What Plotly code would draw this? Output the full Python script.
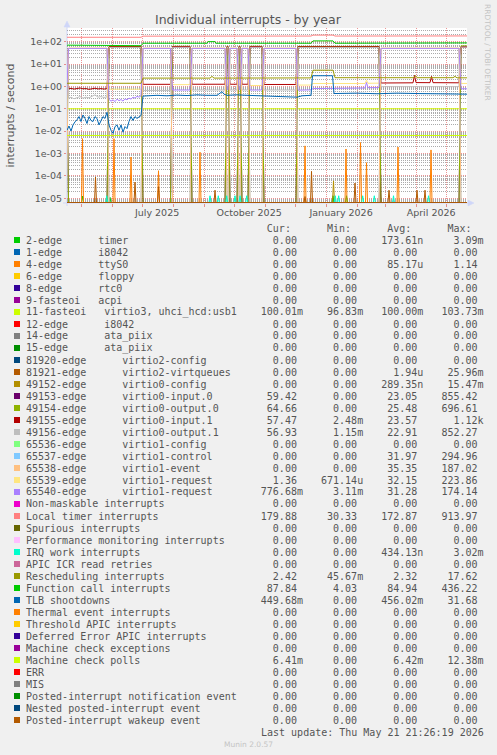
import plotly.graph_objects as go
from datetime import datetime, timedelta

# ---------------------------------------------------------------- data
START = datetime(2025, 4, 16, 21, 26, 19)      # left edge of the 400-day window
SPAN_DAYS = 400

legend_names = [
    "2-edge      timer", "1-edge      i8042", "4-edge      ttyS0", "6-edge      floppy",
    "8-edge      rtc0", "9-fasteoi   acpi", "11-fasteoi   virtio3, uhci_hcd:usb1",
    "12-edge      i8042", "14-edge      ata_piix", "15-edge      ata_piix",
    "81920-edge      virtio2-config", "81921-edge      virtio2-virtqueues",
    "49152-edge      virtio0-config", "49153-edge      virtio0-input.0",
    "49154-edge      virtio0-output.0", "49155-edge      virtio0-input.1",
    "49156-edge      virtio0-output.1", "65536-edge      virtio1-config",
    "65537-edge      virtio1-control", "65538-edge      virtio1-event",
    "65539-edge      virtio1-request", "65540-edge      virtio1-request",
    "Non-maskable interrupts", "Local timer interrupts", "Spurious interrupts",
    "Performance monitoring interrupts", "IRQ work interrupts", "APIC ICR read retries",
    "Rescheduling interrupts", "Function call interrupts", "TLB shootdowns",
    "Thermal event interrupts", "Threshold APIC interrupts", "Deferred Error APIC interrupts",
    "Machine check exceptions", "Machine check polls", "ERR", "MIS",
    "Posted-interrupt notification event", "Nested posted-interrupt event",
    "Posted-interrupt wakeup event",
]
legend_colors = [
    "#00CC00", "#0066B3", "#FF8000", "#FFCC00", "#330099", "#990099", "#CCFF00", "#FF0000",
    "#808080", "#008F00", "#00487D", "#B35A00", "#B38F00", "#6B006B", "#8FB300", "#B30000",
    "#BEBEBE", "#80FF80", "#80C9FF", "#FFC080", "#FFE680", "#AA80FF", "#EE00CC", "#FF8080",
    "#666600", "#FFBFFF", "#00FFCC", "#CC6699", "#999900", "#00CC00", "#0066B3", "#FF8000",
    "#FFCC00", "#330099", "#990099", "#CCFF00", "#FF0000", "#808080", "#008F00", "#00487D",
    "#B35A00",
]
cur_vals = ["0.00", "0.00", "0.00", "0.00", "0.00", "0.00", "100.01m", "0.00", "0.00", "0.00",
            "0.00", "0.00", "0.00", "59.42", "64.66", "57.47", "56.93", "0.00", "0.00", "0.00",
            "1.36", "776.68m", "0.00", "179.88", "0.00", "0.00", "0.00", "0.00", "2.42", "87.84",
            "449.68m", "0.00", "0.00", "0.00", "0.00", "6.41m", "0.00", "0.00", "0.00", "0.00", "0.00"]
min_vals = ["0.00", "0.00", "0.00", "0.00", "0.00", "0.00", "96.83m", "0.00", "0.00", "0.00",
            "0.00", "0.00", "0.00", "0.00", "0.00", "2.48m", "1.15m", "0.00", "0.00", "0.00",
            "671.14u", "3.11m", "0.00", "30.33", "0.00", "0.00", "0.00", "0.00", "45.67m", "4.03",
            "0.00", "0.00", "0.00", "0.00", "0.00", "0.00", "0.00", "0.00", "0.00", "0.00", "0.00"]
avg_vals = ["173.61n", "0.00", "85.17u", "0.00", "0.00", "0.00", "100.00m", "0.00", "0.00", "0.00",
            "0.00", "1.94u", "289.35n", "23.05", "25.48", "23.57", "22.91", "0.00", "31.97", "35.35",
            "32.15", "31.28", "0.00", "172.87", "0.00", "0.00", "434.13n", "0.00", "2.32", "84.94",
            "456.02m", "0.00", "0.00", "0.00", "0.00", "6.42m", "0.00", "0.00", "0.00", "0.00", "0.00"]
max_vals = ["3.09m", "0.00", "1.14", "0.00", "0.00", "0.00", "103.73m", "0.00", "0.00", "0.00",
            "0.00", "25.96m", "15.47m", "855.42", "696.61", "1.12k", "852.27", "0.00", "294.96", "187.02",
            "223.86", "174.14", "0.00", "913.97", "0.00", "0.00", "3.02m", "0.00", "17.62", "436.22",
            "31.68", "0.00", "0.00", "0.00", "0.00", "12.38m", "0.00", "0.00", "0.00", "0.00", "0.00"]

# x ticks
tick_dates = ["2025-07-16", "2025-10-16", "2026-01-16", "2026-04-16"]
tick_labels = ["July 2025", "October 2025", "January 2026", "April 2026"]
month_starts = ["2025-05-01", "2025-06-01", "2025-07-01", "2025-08-01", "2025-09-01",
                "2025-10-01", "2025-11-01", "2025-12-01", "2026-01-01", "2026-02-01",
                "2026-03-01", "2026-04-01", "2026-05-01"]
y_tickvals = [1e-5, 1e-4, 1e-3, 1e-2, 1e-1, 1e0, 1e1, 1e2]
y_ticktext = ["1e-05", "1e-04", "1e-03", "1e-02", "1e-01", "1e+00", "1e+01", "1e+02"]

# device switch-over periods (day offsets from START); B = virtio0 active, A = virtio1 active
seg_bounds = [-2, 0.5, 41, 75, 104.5, 124, 159, 162, 171, 174, 182, 196, 230, 313, 393, 401]

# noisy stretches (day, value)
dr1_days = [1.5, 4, 7, 10, 13, 16, 19, 22, 25, 28, 31, 34, 37, 40]
dr1_vals = [0.78, 0.82, 0.76, 0.80, 0.85, 0.78, 0.80, 0.74, 0.79, 0.83, 0.77, 0.80, 0.76, 0.80]
gr1_vals = [0.30, 0.33, 0.28, 0.32, 0.35, 0.30, 0.33, 0.31, 0.36, 0.42, 0.33, 0.35, 0.32, 0.34]
lav2_days = [42, 44, 46, 48, 50, 52, 54, 56, 58, 60, 62, 64, 66, 68, 70, 72, 74]
lav2_vals = [0.26, 0.22, 0.25, 0.21, 0.27, 0.23, 0.26, 0.22, 0.28, 0.25, 0.30, 0.27, 0.33,
             0.30, 0.36, 0.33, 0.38]
dr13_days = [314, 330, 346, 347.5, 349, 363, 364.5, 366, 380, 392]
dr13_vals = [1.42, 1.45, 1.45, 3.1, 1.48, 1.47, 2.8, 1.47, 1.45, 1.45]
s12_days = [231, 244, 246, 298, 299.5, 301, 312]
y12_vals = [1.15, 1.15, 1.35, 1.35, 1.9, 1.38, 1.40]
lav12_vals = [0.68, 0.70, 0.80, 0.85, 1.5, 0.88, 0.88]

# per-segment levels of the virtio queue interrupts
v0_in0 = [57, 0, 56, 0, 58, 0, 58, 0, 58, 0, 58, 0, 57, 0, 59.4]
v0_out0 = [61, 0, 60, 0, 62, 0, 62, 0, 62, 0, 62, 0, 61, 0, 64.7]
v0_in1 = [59, (dr1_days, dr1_vals), 59, 1.24, 60, 1.25, 60, 1.25, 60, 1.25, 60, 1.22, 59,
          (dr13_days, dr13_vals), 57.5]
v0_out1 = [55, (dr1_days, gr1_vals), 55, 0.66, 56, 0.69, 56, 0.69, 56, 0.69, 56, 0.69, 55, 0.97, 56.9]
v1_ctrl = [0, 49.5, 0, 49.5, 0, 49.5, 0, 49.5, 0, 49.5, 0, 49.5, 0, 49.5, 0]
v1_event = [0, 50.5, 0, 50.5, 0, 50.5, 0, 50.5, 0, 50.5, 0, 50.5, 0, 50.5, 0]
v1_req1 = [0.75, 51.5, 0.75, 51.5, 1.2, 51.5, 1.2, 51.5, 1.2, 51.5, 1.1, 51.5,
           (s12_days, y12_vals), 51.5, 1.36]
v1_req2 = [0.3, 50, (lav2_days, lav2_vals), 50, 0.69, 50, 0.7, 50, 0.7, 50, 0.69, 50,
           (s12_days, lav12_vals), 50, 0.78]

# continuous counters
ltimer_days = [0, 74, 76, 140, 142, 146, 244, 246, 266, 268, 400]
ltimer_vals = [157, 157, 176, 176, 182, 178, 178, 196, 196, 178, 179.9]
fcall_days = [0, 40, 42, 74, 76, 140, 141, 148, 149, 244, 246, 266, 268, 312, 314, 392, 394, 400]
fcall_vals = [70, 70, 66, 66, 85, 85, 100, 100, 85, 85, 108, 108, 85, 86, 90, 90, 87.8, 87.8]
resched_days = [0, 74, 76, 143, 145, 147, 244, 246, 266, 268, 347, 348.5, 350, 386, 388, 390, 400]
resched_vals = [1.38, 1.38, 2.35, 2.35, 2.8, 2.35, 2.4, 5.3, 5.3, 2.45, 2.45, 3.0, 2.45, 2.45, 2.8,
                2.42, 2.42]
tlb_days = [0, 2, 4, 6, 8, 10, 12, 14, 16, 18, 20, 22, 24, 26, 28, 30, 32, 34, 36, 38,
            40, 42, 44, 46, 48, 50, 52, 54, 56, 58, 60, 62, 64, 66, 68, 70, 72, 74, 76,
            90, 100, 110, 120, 130, 140, 150, 155, 157, 160, 170, 180, 190, 200, 210, 220,
            230, 235, 244, 245.5, 265.5, 267, 290, 310, 330, 350, 370, 400]
tlb_vals = [0.011, 0.017, 0.010, 0.019, 0.026, 0.032, 0.045, 0.027, 0.053, 0.037,
            0.022, 0.045, 0.030, 0.027, 0.045, 0.037, 0.019, 0.030, 0.045, 0.037,
            0.070, 0.019, 0.011, 0.008, 0.016, 0.019, 0.011, 0.019, 0.009, 0.016,
            0.013, 0.027, 0.045, 0.030, 0.045, 0.037, 0.045, 0.050, 0.37,
            0.40, 0.38, 0.41, 0.39, 0.42, 0.40, 0.40, 0.58, 0.45, 0.40, 0.42, 0.40, 0.39,
            0.37, 0.36, 0.34, 0.33, 0.38, 0.40, 3.0, 3.0, 0.48, 0.50, 0.47, 0.50, 0.48,
            0.47, 0.45]
fasteoi_days = [0, 400]
fasteoi_vals = [0.1, 0.1]
mcpoll_days = [0, 400]
mcpoll_vals = [6.42e-3, 6.42e-3]

# sporadic spikes
ttys_days = [15.5, 47, 64, 91.5, 133, 238, 279, 293.5, 299.5, 331, 364]
ttys_vals = [4.6e-3, 4.6e-3, 7e-4, 1.7e-4, 1.15e-3, 2.2e-3, 1.6e-3, 3.1e-3, 3.9e-4, 1.95e-3, 1.45e-3]
v2q_days = [28.5, 68, 91.5, 148, 238, 244.5, 288, 313, 322, 350, 358]
v2q_vals = [9e-5, 5.3e-5, 3.3e-5, 2.3e-5, 1.2e-5, 1.6e-4, 4.8e-5, 5e-5, 2.3e-5, 2.3e-5, 2.3e-5]
v0cfg_days = [266.5]
v0cfg_vals = [6e-5]
irqw_days = [39.7, 143, 151.3, 159.7, 168, 173, 179.7, 268.3, 271.7, 295.7, 307.3, 326.5, 361.5]
irqw_vals = [1.3e-5, 1.3e-5, 1.3e-5, 1.3e-5, 1.3e-5, 1.3e-5, 1.3e-5, 1.3e-5, 1.3e-5, 1.3e-5,
             1.3e-5, 1.3e-5, 1.3e-5]
timer2_days = [15.5, 43, 266, 279.5]
timer2_vals = [1.25e-5, 1.1e-5, 1.3e-5, 1.3e-5]

# ---------------------------------------------------------------- helpers
FLOOR = 10 ** -5.19          # zero drawn on the bottom edge of the log axis
PL, PR, PT, PB = 67, 467, 28, 203
W, H = 497, 755


def px(x):
    return (x - PL) / (PR - PL)


def py(y):
    return (PB - y) / (PB - PT)


def to_dates(days):
    return [START + timedelta(days=d) for d in days]


def spikes(days, vals):
    xs, ys = [0], [0.0]
    for d, v in zip(days, vals):
        xs += [d - 1, d, d + 1]
        ys += [0.0, v, 0.0]
    xs.append(SPAN_DAYS)
    ys.append(0.0)
    return xs, ys


def segments(levels):
    xs, ys = [], []
    for i, lv in enumerate(levels):
        a, b = seg_bounds[i], seg_bounds[i + 1]
        if isinstance(lv, tuple):
            xs += list(lv[0])
            ys += list(lv[1])
        else:
            xs += [a + 1, b - 1]
            ys += [lv, lv]
    return xs, ys


series = {
    0: spikes(timer2_days, timer2_vals),
    2: spikes(ttys_days, ttys_vals),
    6: (fasteoi_days, fasteoi_vals),
    11: spikes(v2q_days, v2q_vals),
    12: spikes(v0cfg_days, v0cfg_vals),
    13: segments(v0_in0),
    14: segments(v0_out0),
    15: segments(v0_in1),
    16: segments(v0_out1),
    18: segments(v1_ctrl),
    19: segments(v1_event),
    20: segments(v1_req1),
    21: segments(v1_req2),
    23: (ltimer_days, ltimer_vals),
    26: spikes(irqw_days, irqw_vals),
    28: (resched_days, resched_vals),
    29: (fcall_days, fcall_vals),
    30: (tlb_days, tlb_vals),
    35: (mcpoll_days, mcpoll_vals),
}

fig = go.Figure()
for i, name in enumerate(legend_names):
    xs, ys = series.get(i, ([0, SPAN_DAYS], [0.0, 0.0]))
    fig.add_trace(go.Scatter(
        x=to_dates(xs), y=[max(v, FLOOR) for v in ys], mode="lines",
        line=dict(color=legend_colors[i], width=1), hoverinfo="skip", name=name))

MGRID = "rgba(222,79,79,0.6)"
GRID = "rgba(143,143,143,0.75)"
AXIS = "#CFD6F8"
FONT = "#555555"

LOG_DIGIT = {2: .30103, 3: .47712, 4: .60206, 5: .69897, 6: .77815, 7: .84510, 8: .90309, 9: .95424}
y_minor = [k * 10.0 ** e for e in range(-6, 3) for k in range(2, 10)
           if -5.21 < (e + LOG_DIGIT[k]) < 2.61]

fig.update_layout(
    width=W, height=H,
    margin=dict(l=PL, r=W - PR, t=PT, b=H - PB, pad=0),
    paper_bgcolor="#F0F0F0", plot_bgcolor="#FFFFFF",
    showlegend=False, hovermode=False,
    font=dict(family="DejaVu Sans", color=FONT, size=10),
    xaxis=dict(
        type="date", range=[START, START + timedelta(days=SPAN_DAYS)],
        tickmode="array", tickvals=tick_dates, ticktext=tick_labels,
        showgrid=False, ticks="", showline=False, zeroline=False, ticklabelstandoff=2,
        tickfont=dict(size=9.5, color=FONT, family="DejaVu Sans"),
        minor=dict(tickmode="array", tickvals=month_starts, showgrid=True,
                   gridcolor=MGRID, griddash="1px,1px", gridwidth=1,
                   ticks="outside", ticklen=3, tickcolor=MGRID),
    ),
    yaxis=dict(
        type="log", range=[-5.21, 2.61],
        tickmode="array", tickvals=y_tickvals, ticktext=y_ticktext,
        showgrid=True, gridcolor=MGRID, griddash="1px,1px", gridwidth=1,
        ticks="outside", ticklen=2, tickcolor=MGRID, showline=False, zeroline=False,
        tickfont=dict(size=9.5, color=FONT, family="DejaVu Sans"),
        minor=dict(tickmode="array", tickvals=y_minor, showgrid=True,
                   gridcolor=GRID, griddash="1px,1px", gridwidth=1, ticks=""),
    ),
)

shapes = []
ann = []

# axis lines and arrows
shapes.append(dict(type="line", xref="paper", yref="paper", x0=px(63), x1=px(469),
                   y0=py(203), y1=py(203), line=dict(color=AXIS, width=1), layer="below"))
shapes.append(dict(type="line", xref="paper", yref="paper", x0=px(67), x1=px(67),
                   y0=py(206), y1=py(24), line=dict(color=AXIS, width=1), layer="below"))
shapes.append(dict(type="path", xref="paper", yref="paper",
                   path=f"M {px(468)} {py(200)} L {px(474)} {py(203)} L {px(468)} {py(206)} Z",
                   fillcolor=AXIS, line=dict(color=AXIS, width=0.5)))
shapes.append(dict(type="path", xref="paper", yref="paper",
                   path=f"M {px(64)} {py(27)} L {px(67)} {py(21)} L {px(70)} {py(27)} Z",
                   fillcolor=AXIS, line=dict(color=AXIS, width=0.5)))

# title, axis title, watermarks
ann.append(dict(text="Individual interrupts - by year", x=px(248.5), y=py(19), xref="paper",
                yref="paper", showarrow=False, xanchor="center", yanchor="middle",
                font=dict(family="DejaVu Sans", size=12.5, color=FONT)))
ann.append(dict(text="interrupts / second", x=px(10), y=py(115.5), xref="paper", yref="paper",
                showarrow=False, textangle=-90, xanchor="center", yanchor="middle",
                font=dict(family="DejaVu Sans", size=11, color=FONT)))
ann.append(dict(text="RRDTOOL / TOBI OETIKER", x=px(487.5), y=py(52.5), xref="paper",
                yref="paper", showarrow=False, textangle=90, xanchor="center", yanchor="middle",
                font=dict(family="DejaVu Sans", size=7.5, color="#C4C4C4")))
ann.append(dict(text="Munin 2.0.57", x=px(248), y=py(744), xref="paper", yref="paper",
                showarrow=False, xanchor="center", yanchor="middle",
                font=dict(family="DejaVu Sans", size=7.5, color="#C4C4C4")))

# legend table
MONO = dict(family="DejaVu Sans Mono", size=10, color=FONT)
CH = 6.02
X0 = 26
ROW0 = 240
ROWH = 12


def field(v):
    s = v if v[-1].isalpha() else v + " "
    return s.rjust(10)


header = " " * 40 + "Cur:" + " " * 6 + "Min:" + " " * 6 + "Avg:" + " " * 6 + "Max:"
ann.append(dict(text=header.replace(" ", "\u00a0"), x=px(X0), y=py(ROW0 - ROWH), xref="paper",
                yref="paper", showarrow=False, xanchor="left", yanchor="middle",
                borderpad=0, borderwidth=0, font=MONO))
for i, name in enumerate(legend_names):
    yc = ROW0 + ROWH * i
    row = name.ljust(36) + field(cur_vals[i]) + field(min_vals[i]) + field(avg_vals[i]) + field(max_vals[i])
    ann.append(dict(text=row.replace(" ", "\u00a0"), x=px(X0), y=py(yc), xref="paper", yref="paper",
                    showarrow=False, xanchor="left", yanchor="middle", borderpad=0, borderwidth=0,
                    font=MONO))
    shapes.append(dict(type="rect", xref="paper", yref="paper", x0=px(14), x1=px(20),
                       y0=py(yc + 3), y1=py(yc - 3), fillcolor=legend_colors[i], line=dict(width=0)))

last = "Last update: Thu May 21 21:26:19 2026"
ann.append(dict(text=last.replace(" ", "\u00a0"), x=px(X0 + 39 * CH), y=py(ROW0 + ROWH * 41),
                xref="paper", yref="paper", showarrow=False, xanchor="left", yanchor="middle",
                borderpad=0, borderwidth=0, font=MONO))

fig.update_layout(shapes=shapes, annotations=ann)
fig.write_html(
    "out.html",
    config={"displayModeBar": False, "staticPlot": True},
    post_script="document.body.style.margin='0px';document.body.style.overflow='hidden';"
                "document.documentElement.style.overflow='hidden';",
)
